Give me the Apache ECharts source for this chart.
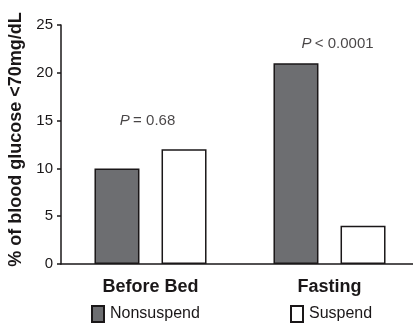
<!DOCTYPE html>
<html>
<head>
<meta charset="utf-8">
<style>html,body{margin:0;padding:0;background:#fff;}#c{width:413px;height:324px;}</style>
<script src="https://cdn.jsdelivr.net/npm/echarts@6/dist/echarts.min.js"></script>
</head>
<body>
<div id="c"></div>
<script>
var categories = ['Before Bed', 'Fasting'];
var nonsuspend = [10, 21];
var suspend = [12, 4];
var yTicks = [0, 5, 10, 15, 20, 25];
var annotationText = ['= 0.68', '< 0.0001'];
var annotationY = [15, 23];

var FONT = 'Liberation Sans, Arial, Helvetica, sans-serif';
var INK = '#1a1718';
var annoOffsets = [[-3, 0], [8, 0]];

var chart = echarts.init(document.getElementById('c'), null, {renderer: 'canvas'});
chart.setOption({
  animation: false,
  backgroundColor: '#fff',
  grid: {left: 61, top: 25, bottom: 60, width: 358, containLabel: false, outerBoundsMode: 'none'},
  legend: [
    {data: ['Nonsuspend'], icon: 'rect', left: 91, top: 305, itemWidth: 12, itemHeight: 16, itemGap: 6, padding: 0,
     textStyle: {fontFamily: FONT, fontSize: 16, color: INK, padding: [0, 0, 0, 1]}},
    {data: ['Suspend'], icon: 'rect', left: 290, top: 305, itemWidth: 12, itemHeight: 16, padding: 0,
     textStyle: {fontFamily: FONT, fontSize: 16, color: INK, padding: [0, 0, 0, 1]}}
  ],
  xAxis: {
    type: 'category', data: categories,
    axisLine: {lineStyle: {color: INK, width: 1.5}},
    axisTick: {alignWithLabel: true, length: 4, lineStyle: {color: INK, width: 1.5}},
    axisLabel: {fontFamily: FONT, fontSize: 18, fontWeight: 'bold', color: INK, margin: 14}
  },
  yAxis: {
    type: 'value', min: yTicks[0], max: yTicks[yTicks.length - 1], interval: yTicks[1] - yTicks[0],
    name: '% of blood glucose <70mg/dL', nameLocation: 'middle', nameGap: 35,
    nameTextStyle: {fontFamily: FONT, fontSize: 18, fontWeight: 'bold', color: INK, padding: [0, 0, 0, 10]},
    axisLine: {show: true, lineStyle: {color: INK, width: 1.5}},
    axisTick: {show: true, length: 4, lineStyle: {color: INK, width: 1.5}},
    splitLine: {show: false},
    axisLabel: {fontFamily: FONT, fontSize: 15, color: INK, margin: 8}
  },
  series: [
    {name: 'Nonsuspend', type: 'bar', data: nonsuspend, barWidth: 45, barGap: '49%',
     itemStyle: {color: '#6d6e71', borderColor: INK, borderWidth: 1.5}},
    {name: 'Suspend', type: 'bar', data: suspend, barWidth: 45,
     itemStyle: {color: '#ffffff', borderColor: INK, borderWidth: 1.5}},
    {name: 'annotation', type: 'scatter', symbolSize: 0, silent: true,
     data: categories.map(function (c, i) {
       return {value: [c, annotationY[i]],
         label: {show: true, position: 'inside', offset: annoOffsets[i],
           formatter: '{p|P} {t|' + annotationText[i] + '}',
           rich: {p: {fontFamily: FONT, fontSize: 15, fontStyle: 'italic', color: INK},
                  t: {fontFamily: FONT, fontSize: 15, color: INK}}}};
     })}
  ]
});
</script>
</body>
</html>
